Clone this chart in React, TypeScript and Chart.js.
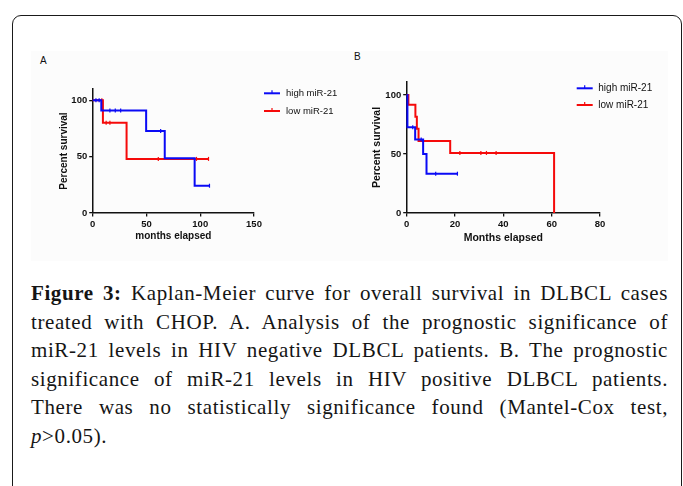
import React, { useEffect, useRef } from "react";
import { Chart, registerables } from "chart.js";

Chart.register(...registerables);

// ---------- data ----------
const SERIES_LABELS = ["high miR-21", "low miR-21"];
const SERIES_COLORS = ["#0a0af5", "#f50a0a"];

// Panel A (HIV negative)
const A_X_TICKS = [0, 50, 100, 150];
const A_Y_TICKS = [0, 50, 100];
const A_HIGH_T = [0, 8, 49.7, 67, 94.8, 108.6];
const A_HIGH_S = [100, 90.9, 72.7, 48.5, 24.2, 24.2];
const A_HIGH_CENS_T = [3, 6, 16, 21, 26, 63.2, 108.6];
const A_HIGH_CENS_S = [100, 100, 90.9, 90.9, 90.9, 72.7, 24.2];
const A_LOW_T = [0, 9.5, 31.5, 107.7];
const A_LOW_S = [100, 80, 48, 48];
const A_LOW_CENS_T = [8.5, 12.5, 16, 61, 96.5, 107.7];
const A_LOW_CENS_S = [100, 80, 80, 48, 48, 48];

// Panel B (HIV positive)
const B_X_TICKS = [0, 20, 40, 60, 80];
const B_Y_TICKS = [0, 50, 100];
const B_HIGH_T = [0, 0.3, 3.5, 6.8, 8.2, 21];
const B_HIGH_S = [100, 72.7, 62.3, 49.9, 33.3, 33.3];
const B_HIGH_CENS_T = [2.5, 6, 12, 21];
const B_HIGH_CENS_S = [72.7, 62.3, 33.3, 33.3];
const B_LOW_T = [0, 0.7, 3.6, 4.2, 4.9, 18, 61];
const B_LOW_S = [100, 91.7, 81.5, 71.3, 61.1, 50.9, 0];
const B_LOW_CENS_T = [22, 30.7, 33, 37];
const B_LOW_CENS_S = [50.9, 50.9, 50.9, 50.9];

const CAPTION_LABEL = "Figure 3:";
const CAPTION_LINES = [
  " Kaplan-Meier curve for overall survival in DLBCL cases",
  "treated with CHOP. A. Analysis of the prognostic significance of",
  "miR-21 levels in HIV negative DLBCL patients. B. The prognostic",
  "significance of miR-21 levels in HIV positive DLBCL patients.",
  "There was no statistically significance found (Mantel-Cox test,",
  ">0.05).",
];
const CAPTION_ITALIC = "p";

// ---------- helpers ----------
const SANS = '"Liberation Sans", Arial, Helvetica, sans-serif';
const INK = "#111111";

const pts = (t: number[], s: number[]) => t.map((x, i) => ({ x, y: s[i] }));

type Geo = {
  width: number;
  height: number;
  pad: { left: number; top: number; right: number; bottom: number };
  yW: number;
  xH: number;
  xMax: number;
  yMax: number;
  xTicks: number[];
  yTicks: number[];
  xTitle: string;
  tickSize: number;
  titleSize: number;
  legend: { lx: number; ly: number; dy: number; tx: number; size: number };
};

function buildConfig(
  g: Geo,
  high: { t: number[]; s: number[]; ct: number[]; cs: number[] },
  low: { t: number[]; s: number[]; ct: number[]; cs: number[] }
): any {
  const lineDs = (label: string, color: string, t: number[], s: number[]) => ({
    type: "line",
    label,
    data: pts(t, s),
    borderColor: color,
    backgroundColor: color,
    borderWidth: 2,
    stepped: true,
    pointRadius: 0,
    fill: false,
    clip: false,
  });
  const censDs = (color: string, t: number[], s: number[]) => ({
    type: "line",
    label: "_cens",
    data: pts(t, s),
    showLine: false,
    borderColor: color,
    backgroundColor: color,
    pointStyle: "line",
    rotation: 90,
    pointRadius: 2,
    pointBorderWidth: 1.2,
    clip: false,
  });

  const legendPlugin = {
    id: "kmLegend",
    afterDraw(chart: any) {
      const ctx = chart.ctx;
      const L = g.legend;
      ctx.save();
      SERIES_LABELS.forEach((lab, i) => {
        const y = L.ly + i * L.dy;
        ctx.strokeStyle = SERIES_COLORS[i];
        ctx.lineWidth = 2;
        ctx.beginPath();
        ctx.moveTo(L.lx, y);
        ctx.lineTo(L.lx + 16, y);
        ctx.stroke();
        ctx.lineWidth = 1.2;
        ctx.beginPath();
        ctx.moveTo(L.lx + 8, y - 3);
        ctx.lineTo(L.lx + 8, y);
        ctx.stroke();
        ctx.fillStyle = INK;
        ctx.font = `${L.size}px ${SANS}`;
        ctx.textAlign = "left";
        ctx.textBaseline = "middle";
        ctx.fillText(lab, L.tx, y);
      });
      ctx.restore();
    },
  };

  const axisCommon = (size: number) => ({
    type: "linear",
    min: 0,
    grid: {
      display: true,
      drawOnChartArea: false,
      drawTicks: true,
      tickLength: 3.5,
      color: INK,
      lineWidth: 1.3,
    },
    border: { display: true, color: INK, width: 1.5 },
    ticks: {
      font: { family: SANS, size, weight: "bold" },
      color: INK,
      padding: 2,
      maxRotation: 0,
      autoSkip: false,
    },
  });

  return {
    type: "line",
    data: {
      datasets: [
        lineDs(SERIES_LABELS[0], SERIES_COLORS[0], high.t, high.s),
        censDs(SERIES_COLORS[0], high.ct, high.cs),
        lineDs(SERIES_LABELS[1], SERIES_COLORS[1], low.t, low.s),
        censDs(SERIES_COLORS[1], low.ct, low.cs),
      ],
    },
    options: {
      animation: false,
      responsive: false,
      maintainAspectRatio: false,
      devicePixelRatio: 1,
      events: [],
      layout: { padding: g.pad },
      plugins: { legend: { display: false }, tooltip: { enabled: false } },
      scales: {
        x: {
          ...axisCommon(g.tickSize),
          max: g.xMax,
          afterBuildTicks: (s: any) => {
            s.ticks = g.xTicks.map((v) => ({ value: v }));
          },
          afterFit: (s: any) => {
            s.height = g.xH;
          },
          title: {
            display: true,
            text: g.xTitle,
            color: INK,
            padding: 0,
            font: { family: SANS, size: g.titleSize, weight: "bold", lineHeight: 1.2 },
          },
        },
        y: {
          ...axisCommon(g.tickSize),
          max: g.yMax,
          afterBuildTicks: (s: any) => {
            s.ticks = g.yTicks.map((v) => ({ value: v }));
          },
          afterFit: (s: any) => {
            s.width = g.yW;
          },
          title: {
            display: true,
            text: "Percent survival",
            color: INK,
            padding: 0,
            font: { family: SANS, size: g.titleSize, weight: "bold", lineHeight: 1.2 },
          },
        },
      },
    },
    plugins: [legendPlugin],
  };
}

function KMChart(props: { left: number; top: number; geo: Geo; high: any; low: any }) {
  const ref = useRef<HTMLCanvasElement | null>(null);
  useEffect(() => {
    if (!ref.current) return;
    const chart = new Chart(ref.current, buildConfig(props.geo, props.high, props.low));
    return () => chart.destroy();
  }, []);
  return (
    <canvas
      ref={ref}
      width={props.geo.width}
      height={props.geo.height}
      style={{
        position: "absolute",
        left: props.left,
        top: props.top,
        width: props.geo.width,
        height: props.geo.height,
      }}
    />
  );
}

const GEO_A: Geo = {
  width: 320,
  height: 205,
  pad: { left: 28.6, top: 39, right: 96, bottom: 13 },
  yW: 34.1,
  xH: 29,
  xMax: 150,
  yMax: 110,
  xTicks: A_X_TICKS,
  yTicks: A_Y_TICKS,
  xTitle: "months elapsed",
  tickSize: 9.5,
  titleSize: 10,
  legend: { lx: 234, ly: 43.3, dy: 17.7, tx: 256, size: 9.5 },
};

const GEO_B: Geo = {
  width: 330,
  height: 210,
  pad: { left: 20.9, top: 37, right: 80, bottom: 11 },
  yW: 35.8,
  xH: 31,
  xMax: 80,
  yMax: 111,
  xTicks: B_X_TICKS,
  yTicks: B_Y_TICKS,
  xTitle: "Months elapsed",
  tickSize: 9.5,
  titleSize: 10.5,
  legend: { lx: 226.7, ly: 43.3, dy: 16.7, tx: 248.3, size: 10 },
};

export default function App() {
  const last = CAPTION_LINES.length - 1;
  return (
    <div
      style={{
        position: "fixed",
        left: 0,
        top: 0,
        width: 683,
        height: 486,
        overflow: "hidden",
        background: "#ffffff",
      }}
    >
      <div
        style={{
          position: "absolute",
          left: 12,
          top: 15,
          width: 670,
          height: 500,
          border: "1.5px solid #1a1a1a",
          borderRadius: 9,
          boxSizing: "border-box",
        }}
      />
      <div
        style={{
          position: "absolute",
          left: 31,
          top: 51,
          width: 637,
          height: 210,
          background: "#fcfcfc",
        }}
      />
      <div style={{ position: "absolute", left: 40, top: 55, font: `10px ${SANS}`, color: INK }}>A</div>
      <div style={{ position: "absolute", left: 354, top: 51, font: `10px ${SANS}`, color: INK }}>B</div>
      <KMChart
        left={30}
        top={50}
        geo={GEO_A}
        high={{ t: A_HIGH_T, s: A_HIGH_S, ct: A_HIGH_CENS_T, cs: A_HIGH_CENS_S }}
        low={{ t: A_LOW_T, s: A_LOW_S, ct: A_LOW_CENS_T, cs: A_LOW_CENS_S }}
      />
      <KMChart
        left={350}
        top={45}
        geo={GEO_B}
        high={{ t: B_HIGH_T, s: B_HIGH_S, ct: B_HIGH_CENS_T, cs: B_HIGH_CENS_S }}
        low={{ t: B_LOW_T, s: B_LOW_S, ct: B_LOW_CENS_T, cs: B_LOW_CENS_S }}
      />
      <div
        style={{
          position: "absolute",
          left: 31,
          top: 279,
          width: 637,
          fontFamily: '"Liberation Serif", "Times New Roman", serif',
          fontSize: 21,
          letterSpacing: "0.6px",
          lineHeight: "28.6px",
          color: "#151515",
        }}
      >
        {CAPTION_LINES.map((ln, i) => (
          <div
            key={i}
            style={{
              textAlign: i < last ? "justify" : "left",
              textAlignLast: i < last ? "justify" : "left",
            } as any}
          >
            {i === 0 ? <b>{CAPTION_LABEL}</b> : null}
            {i === last ? <i>{CAPTION_ITALIC}</i> : null}
            {ln}
          </div>
        ))}
      </div>
    </div>
  );
}
